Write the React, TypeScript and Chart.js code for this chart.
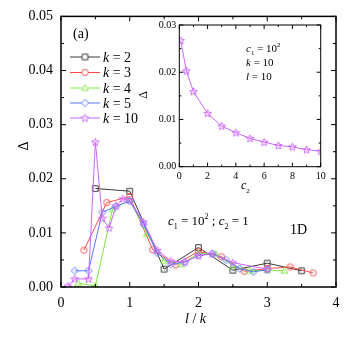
import React, { useEffect, useRef } from 'react';
import { Chart, registerables } from 'chart.js';
Chart.register(...registerables);

const SERIF = '"Liberation Serif", "DejaVu Serif", serif';

// ---- main panel data (Δ vs l/k, c1 = 10^2, c2 = 1) ----
const k2X = [0.5, 1, 1.5, 2, 2.5, 3, 3.5];
const k2Y = [0.0182, 0.0177, 0.0033, 0.0073, 0.0031, 0.0044, 0.0030];
const k3X = [1 / 3, 2 / 3, 1, 4 / 3, 5 / 3, 2, 7 / 3, 8 / 3, 3, 10 / 3, 11 / 3];
const k3Y = [0.0068, 0.0156, 0.0167, 0.0069, 0.0041, 0.0066, 0.0056, 0.0029, 0.0034, 0.0037, 0.0026];
const k4X = [0.25, 0.5, 0.75, 1, 1.25, 1.5, 1.75, 2, 2.25, 2.5, 2.75, 3, 3.25];
const k4Y = [0.0007, 0.0002, 0.0144, 0.016, 0.0098, 0.0048, 0.0042, 0.0062, 0.0061, 0.0039, 0.003, 0.0031, 0.003];
const k5X = [0.2, 0.4, 0.6, 0.8, 1.0, 1.2, 1.4, 1.6, 1.8, 2.0, 2.2, 2.4, 2.6, 2.8, 3.0];
const k5Y = [0.003, 0.003, 0.0138, 0.0149, 0.0159, 0.0116, 0.0063, 0.0042, 0.0046, 0.0058, 0.0062, 0.005, 0.0034, 0.0028, 0.0032];
const k10X = [0.1, 0.2, 0.4, 0.5, 0.6, 0.7, 0.8, 0.9, 1.0, 1.2, 1.4, 1.6, 1.8, 2.0, 2.2, 2.5, 3.0];
const k10Y = [0.0002, 0.0015, 0.0015, 0.0268, 0.0127, 0.0109, 0.015, 0.0163, 0.016, 0.012, 0.0068, 0.0048, 0.0046, 0.0058, 0.0061, 0.0045, 0.0033];

const kLabels = ['2', '3', '4', '5', '10'];
const xTicks = [0, 1, 2, 3, 4];
const yTicks = [0, 0.01, 0.02, 0.03, 0.04, 0.05];

// ---- inset data (Δ vs c2, k = 10, l = 10) ----
const c2X = [0.1, 0.5, 1, 2, 3, 4, 5, 6, 7, 8, 9, 10];
const insetY = [0.0267, 0.0203, 0.0159, 0.0113, 0.0086, 0.0072, 0.006, 0.0052, 0.0045, 0.0042, 0.0036, 0.0033];
const insetXTicks = [0, 2, 4, 6, 8, 10];
const insetYTicks = [0, 0.01, 0.02, 0.03];

const COLORS = ['#3a3a3a', '#ff4a4a', '#80e840', '#5a78ff', '#cc66ff'];
const SHAPES = ['square', 'circle', 'triangle', 'diamond', 'star'];

function makeMarker(shape: string, color: string) {
  const size = 11;
  const c = document.createElement('canvas');
  c.width = size;
  c.height = size;
  const g = c.getContext('2d')!;
  g.strokeStyle = color;
  g.lineWidth = 1;
  const m = size / 2;
  g.beginPath();
  if (shape === 'square') g.rect(m - 2.8, m - 2.8, 5.6, 5.6);
  else if (shape === 'circle') g.arc(m, m, 3.1, 0, Math.PI * 2);
  else if (shape === 'triangle') {
    g.moveTo(m, m - 3.6);
    g.lineTo(m + 3.4, m + 2.4);
    g.lineTo(m - 3.4, m + 2.4);
    g.closePath();
  } else if (shape === 'diamond') {
    g.moveTo(m, m - 3.6);
    g.lineTo(m + 3.6, m);
    g.lineTo(m, m + 3.6);
    g.lineTo(m - 3.6, m);
    g.closePath();
  } else {
    for (let i = 0; i < 10; i++) {
      const r = i % 2 === 0 ? 4 : 1.7;
      const a = -Math.PI / 2 + (i * Math.PI) / 5;
      const px = m + r * Math.cos(a);
      const py = m + 0.3 + r * Math.sin(a);
      if (i === 0) g.moveTo(px, py);
      else g.lineTo(px, py);
    }
    g.closePath();
  }
  g.stroke();
  return c;
}

type Run = { t: string; it?: boolean; sub?: boolean; sup?: boolean };
function drawRuns(ctx: CanvasRenderingContext2D, x: number, y: number, size: number, runs: Run[]) {
  ctx.textAlign = 'left';
  ctx.textBaseline = 'alphabetic';
  let cx = x;
  for (const r of runs) {
    const s = r.sub || r.sup ? Math.round(size * 0.62) : size;
    ctx.font = `${r.it ? 'italic ' : ''}${s}px ${SERIF}`;
    const dy = r.sub ? size * 0.3 : r.sup ? -size * 0.45 : 0;
    ctx.fillText(r.t, cx, y + dy);
    cx += ctx.measureText(r.t).width;
  }
}

function drawFrameTicks(chart: any, xs: number[], ys: number[], xMajorEvery: number, yMajorEvery: number, maj: number, min: number, lw: number) {
  const { ctx, chartArea, scales } = chart;
  const { left, right, top, bottom } = chartArea;
  ctx.save();
  ctx.strokeStyle = '#000';
  ctx.lineWidth = lw;
  ctx.strokeRect(left, top, right - left, bottom - top);
  ctx.lineWidth = 1;
  ctx.beginPath();
  xs.forEach((v) => {
    const p = scales.x.getPixelForValue(v);
    const isMaj = Math.abs(v / xMajorEvery - Math.round(v / xMajorEvery)) < 1e-6;
    const len = isMaj ? maj : min;
    ctx.moveTo(p, bottom);
    ctx.lineTo(p, bottom - len);
    ctx.moveTo(p, top);
    ctx.lineTo(p, top + len);
  });
  ys.forEach((v) => {
    const p = scales.y.getPixelForValue(v);
    const isMaj = Math.abs(v / yMajorEvery - Math.round(v / yMajorEvery)) < 1e-6;
    const len = isMaj ? maj : min;
    ctx.moveTo(left, p);
    ctx.lineTo(left + len, p);
    ctx.moveTo(right, p);
    ctx.lineTo(right - len, p);
  });
  ctx.stroke();
  ctx.restore();
}

function range(a: number, b: number, s: number) {
  const out: number[] = [];
  for (let v = a; v <= b + 1e-9; v += s) out.push(+v.toFixed(6));
  return out;
}

export default function App() {
  const mainRef = useRef<HTMLCanvasElement>(null);
  const insetRef = useRef<HTMLCanvasElement>(null);

  useEffect(() => {
    const markers = SHAPES.map((s, i) => makeMarker(s, COLORS[i]));
    const xsAll = [k2X, k3X, k4X, k5X, k10X];
    const ysAll = [k2Y, k3Y, k4Y, k5Y, k10Y];
    const datasets = xsAll.map((xs, i) => ({
      label: 'k = ' + kLabels[i],
      data: xs.map((x, j) => ({ x, y: ysAll[i][j] })),
      showLine: true,
      borderColor: COLORS[i],
      backgroundColor: COLORS[i],
      borderWidth: 1,
      pointStyle: markers[i] as any,
      pointRadius: 4,
      tension: 0,
      order: 5 - i,
    }));

    const mainPlugin = {
      id: 'mainDeco',
      afterDraw(chart: any) {
        drawFrameTicks(chart, range(0, 4, 0.5), range(0, 0.05, 0.005), 1, 0.01, 5, 3, 1.5);
        const ctx = chart.ctx as CanvasRenderingContext2D;
        ctx.save();
        ctx.fillStyle = '#000';
        drawRuns(ctx, 73, 38, 14, [{ t: '(a)' }]);
        // legend
        const ly = [57, 72.5, 88, 103, 118];
        kLabels.forEach((lab, i) => {
          ctx.strokeStyle = COLORS[i];
          ctx.lineWidth = 1;
          ctx.beginPath();
          ctx.moveTo(70, ly[i]);
          ctx.lineTo(100, ly[i]);
          ctx.stroke();
          const mk = markers[i];
          ctx.clearRect(85 - 3, ly[i] - 3, 6, 6);
          ctx.fillStyle = '#fff';
          ctx.fillRect(85 - 3, ly[i] - 3, 6, 6);
          ctx.drawImage(mk, 85 - mk.width / 2, ly[i] - mk.height / 2);
          ctx.fillStyle = '#000';
          drawRuns(ctx, 103, ly[i] + 4.5, 14, [{ t: 'k', it: true }, { t: ' = ' + lab }]);
        });
        drawRuns(ctx, 168, 225, 13, [
          { t: 'c', it: true },
          { t: '1', sub: true },
          { t: ' = 10' },
          { t: '2', sup: true },
          { t: ' ; ' },
          { t: 'c', it: true },
          { t: '2', sub: true },
          { t: ' = 1' },
        ]);
        drawRuns(ctx, 290, 234, 14, [{ t: '1D' }]);
        drawRuns(ctx, 185, 323, 14, [{ t: 'l', it: true }, { t: ' / ' }, { t: 'k', it: true }]);
        ctx.translate(24, 146);
        ctx.rotate(-Math.PI / 2);
        ctx.font = `14px ${SERIF}`;
        ctx.textAlign = 'center';
        ctx.textBaseline = 'middle';
        ctx.fillText('Δ', 0, 0);
        ctx.restore();
      },
    };

    const main = new Chart(mainRef.current!, {
      type: 'scatter',
      data: { datasets },
      options: {
        animation: false,
        responsive: false,
        maintainAspectRatio: false,
        devicePixelRatio: 1,
        layout: { padding: { left: 0, top: 13, right: 18, bottom: 0 } },
        plugins: { legend: { display: false }, tooltip: { enabled: false } },
        elements: { line: { borderWidth: 1 } },
        scales: {
          x: {
            type: 'linear',
            min: 0,
            max: 4,
            afterFit: (s: any) => {
              s.height = 54;
            },
            afterBuildTicks: (s: any) => {
              s.ticks = xTicks.map((v) => ({ value: v }));
            },
            grid: { display: false, drawTicks: false },
            border: { display: false },
            ticks: {
              autoSkip: false,
              padding: 8,
              color: '#000',
              font: { family: SERIF, size: 14 },
              callback: (v: any) => String(v),
            },
          },
          y: {
            type: 'linear',
            min: 0,
            max: 0.05,
            afterFit: (s: any) => {
              s.width = 61;
            },
            afterBuildTicks: (s: any) => {
              s.ticks = yTicks.map((v) => ({ value: v }));
            },
            grid: { display: false, drawTicks: false },
            border: { display: false },
            ticks: {
              autoSkip: false,
              padding: 8,
              color: '#000',
              font: { family: SERIF, size: 14 },
              callback: (v: any) => Number(v).toFixed(2),
            },
          },
        },
      },
      plugins: [mainPlugin],
    });

    const insetMarker = makeMarker('star', COLORS[4]);
    const insetPlugin = {
      id: 'insetDeco',
      beforeDraw(chart: any) {
        const { ctx, chartArea } = chart;
        ctx.save();
        ctx.fillStyle = '#fff';
        ctx.fillRect(chartArea.left, chartArea.top, chartArea.right - chartArea.left, chartArea.bottom - chartArea.top);
        ctx.restore();
      },
      afterDraw(chart: any) {
        drawFrameTicks(chart, range(0, 10, 1), range(0, 0.03, 0.005), 2, 0.01, 4, 2, 1);
        const ctx = chart.ctx as CanvasRenderingContext2D;
        ctx.save();
        ctx.fillStyle = '#000';
        drawRuns(ctx, 116, 37, 11, [{ t: 'c', it: true }, { t: '1', sub: true }, { t: ' = 10' }, { t: '2', sup: true }]);
        drawRuns(ctx, 116, 51, 11, [{ t: 'k', it: true }, { t: ' = 10' }]);
        drawRuns(ctx, 116, 65, 11, [{ t: 'l', it: true }, { t: ' = 10' }]);
        drawRuns(ctx, 111, 174, 12, [{ t: 'c', it: true }, { t: '2', sub: true }]);
        ctx.translate(14, 80);
        ctx.rotate(-Math.PI / 2);
        ctx.font = `12px ${SERIF}`;
        ctx.textAlign = 'center';
        ctx.textBaseline = 'middle';
        ctx.fillText('Δ', 0, 0);
        ctx.restore();
      },
    };

    const inset = new Chart(insetRef.current!, {
      type: 'scatter',
      data: {
        datasets: [
          {
            label: 'inset',
            data: c2X.map((x, j) => ({ x, y: insetY[j] })),
            showLine: true,
            borderColor: COLORS[4],
            backgroundColor: COLORS[4],
            borderWidth: 1,
            pointStyle: insetMarker as any,
            pointRadius: 4,
          },
        ],
      },
      options: {
        animation: false,
        responsive: false,
        maintainAspectRatio: false,
        devicePixelRatio: 1,
        layout: { padding: { left: 0, top: 10, right: 19.3, bottom: 0 } },
        plugins: { legend: { display: false }, tooltip: { enabled: false } },
        scales: {
          x: {
            type: 'linear',
            min: 0,
            max: 10,
            afterFit: (s: any) => {
              s.height = 38.3;
            },
            afterBuildTicks: (s: any) => {
              s.ticks = insetXTicks.map((v) => ({ value: v }));
            },
            grid: { display: false, drawTicks: false },
            border: { display: false },
            ticks: {
              autoSkip: false,
              padding: 4,
              color: '#000',
              font: { family: SERIF, size: 10 },
              callback: (v: any) => String(v),
            },
          },
          y: {
            type: 'linear',
            min: 0,
            max: 0.03,
            afterFit: (s: any) => {
              s.width = 49.3;
            },
            afterBuildTicks: (s: any) => {
              s.ticks = insetYTicks.map((v) => ({ value: v }));
            },
            grid: { display: false, drawTicks: false },
            border: { display: false },
            ticks: {
              autoSkip: false,
              padding: 3,
              color: '#000',
              font: { family: SERIF, size: 10 },
              callback: (v: any) => Number(v).toFixed(2),
            },
          },
        },
      },
      plugins: [insetPlugin],
    });

    return () => {
      main.destroy();
      inset.destroy();
    };
  }, []);

  return (
    <div style={{ position: 'fixed', left: 0, top: 0, width: 354, height: 341, background: '#fff' }}>
      <canvas
        ref={mainRef}
        width={354}
        height={341}
        style={{ position: 'absolute', left: 0, top: 0, width: 354, height: 341 }}
      />
      <canvas
        ref={insetRef}
        width={210}
        height={190}
        style={{ position: 'absolute', left: 130, top: 15, width: 210, height: 190 }}
      />
    </div>
  );
}
